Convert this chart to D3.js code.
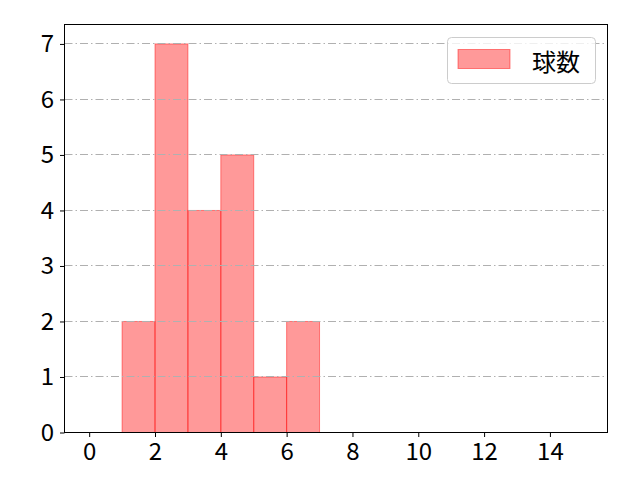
<!DOCTYPE html>
<html>
<head>
<meta charset="utf-8">
<script src="https://cdn.jsdelivr.net/npm/d3@7"></script>
<style>
  body { margin: 0; background: white; }
  text { font-family: "Noto Sans CJK JP", "DejaVu Sans", sans-serif; }
</style>
</head>
<body>
<div id="chart"></div>
<script>
// histogram bins (left edge, right edge) and counts
var binStarts = [1, 2, 3, 4, 5, 6];
var binEnds = [2, 3, 4, 5, 6, 7];
var counts = [2, 7, 4, 5, 1, 2];
var xTicks = [0, 2, 4, 6, 8, 10, 12, 14];
var yTicks = [0, 1, 2, 3, 4, 5, 6, 7];
var seriesName = "球数";

var width = 640, height = 480;
var plotLeft = 64.5, plotRight = 607.5, plotTop = 24.5, plotBottom = 432.5;

var svg = d3.select("#chart").append("svg")
    .attr("width", width)
    .attr("height", height);

var x = d3.scaleLinear().domain([-0.75, 15.75]).range([plotLeft, plotRight]);
var y = d3.scaleLinear().domain([0, 7.35]).range([plotBottom, plotTop]);

// bars
var bars = svg.append("g");
bars.selectAll("rect").data(counts).enter()
  .append("rect")
  .attr("x", function(d, i) { return x(binStarts[i]); })
  .attr("y", function(d) { return y(d); })
  .attr("width", function(d, i) { return x(binEnds[i]) - x(binStarts[i]); })
  .attr("height", function(d) { return y(0) - y(d); })
  .style("fill", "#ff0000")
  .style("fill-opacity", 0.4)
  .style("stroke", "#ff0000")
  .style("stroke-opacity", 0.45)
  .style("stroke-width", 1);

// horizontal grid, drawn over the bars
var grid = svg.append("g");
grid.selectAll("line").data(yTicks).enter()
  .append("line")
  .attr("x1", plotLeft)
  .attr("x2", plotRight)
  .attr("y1", function(d) { return Math.floor(y(d)) + 0.5; })
  .attr("y2", function(d) { return Math.floor(y(d)) + 0.5; })
  .style("stroke", "#b0b0b0")
  .style("stroke-width", 1)
  .style("stroke-dasharray", "8,3,1.5,3");

// frame
svg.append("rect")
  .attr("x", plotLeft)
  .attr("y", plotTop)
  .attr("width", plotRight - plotLeft)
  .attr("height", plotBottom - plotTop)
  .style("fill", "none")
  .style("stroke", "black")
  .style("stroke-width", 1);

// axes
var xAxis = svg.append("g")
  .attr("transform", "translate(0," + plotBottom + ")")
  .call(d3.axisBottom(x).tickValues(xTicks).tickSize(4.5).tickPadding(6).tickFormat(d3.format("d")));
var yAxis = svg.append("g")
  .attr("transform", "translate(" + plotLeft + ",0)")
  .call(d3.axisLeft(y).tickValues(yTicks).tickSize(4.5).tickPadding(6).tickFormat(d3.format("d")));

[xAxis, yAxis].forEach(function(a) {
  a.select(".domain").remove();
  a.selectAll("text")
    .style("font-family", "'Noto Sans CJK JP', 'DejaVu Sans', sans-serif")
    .style("font-size", "24px")
    .style("fill", "black");
  a.selectAll("line").style("stroke", "black").style("stroke-width", 1);
});

// legend
var legend = svg.append("g").attr("transform", "translate(447,37)");
legend.append("rect")
  .attr("x", 0.5)
  .attr("y", 0.5)
  .attr("width", 148)
  .attr("height", 46)
  .attr("rx", 4)
  .style("fill", "white")
  .style("fill-opacity", 0.8)
  .style("stroke", "#cccccc")
  .style("stroke-width", 1);
legend.append("rect")
  .attr("x", 11)
  .attr("y", 12.5)
  .attr("width", 52)
  .attr("height", 19)
  .style("fill", "#ff0000")
  .style("fill-opacity", 0.4)
  .style("stroke", "#ff0000")
  .style("stroke-opacity", 0.45);
legend.append("text")
  .attr("x", 85)
  .attr("y", 23)
  .text(seriesName)
  .style("font-size", "24px")
  .style("dominant-baseline", "central")
  .style("fill", "black");
</script>
</body>
</html>
